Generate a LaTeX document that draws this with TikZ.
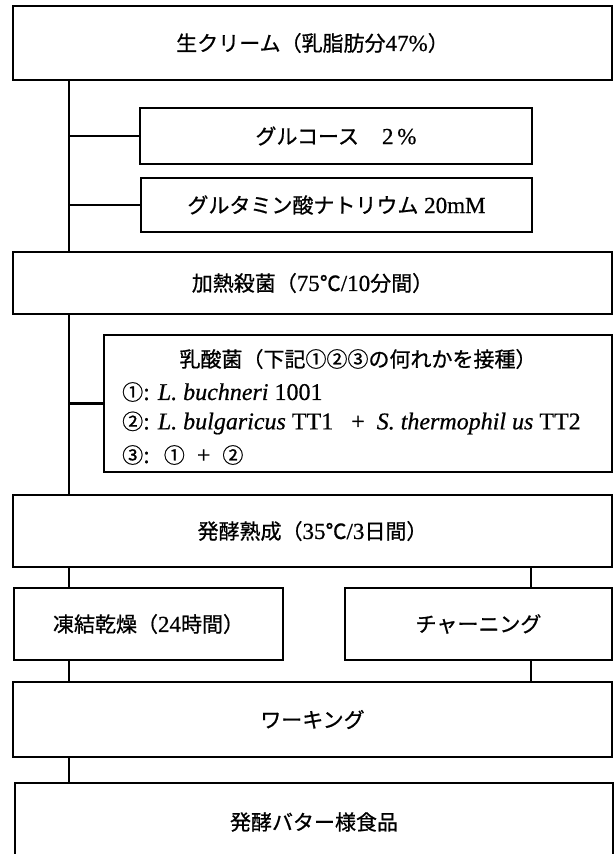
\documentclass[tikz,border=0pt]{standalone}
\usepackage{fontspec}
\setmainfont[FakeBold=0.6]{Liberation Serif}
\newfontfamily\cjkfont[FakeBold=0.8]{Noto Sans CJK JP}
\newcommand\jpn[1]{{\cjkfont\fontsize{21}{25}\selectfont #1}}
\begin{document}
\begin{tikzpicture}[x=1pt,y=-1pt,
  box/.style={draw, line width=2.5pt, rectangle, inner sep=0pt, align=center,
    font=\fontsize{23}{27}\selectfont},
  txt/.style={inner sep=0pt, font=\fontsize{21}{25}\selectfont},
  ltxt/.style={inner sep=0pt, font=\fontsize{24}{28}\selectfont},
  conn/.style={line width=2.6pt}]
\useasboundingbox (0,0) rectangle (615,854);
\clip (0,0) rectangle (615,854);
\coordinate (L) at (69,0);
\coordinate (R) at (531,0);
% boxes
\node[box, minimum width=599pt, minimum height=74pt] (cream) at (312.5,43)
  {\jpn{生クリーム（乳脂肪分}47\%\jpn{）}};
\node[box, minimum width=392pt, minimum height=56pt] (glc) at (336,136)
  {\jpn{グルコース}\quad 2\,\%};
\node[box, minimum width=391pt, minimum height=54pt] (glu) at (336.5,205)
  {\jpn{グルタミン酸ナトリウム} 20mM};
\node[box, minimum width=599pt, minimum height=62pt] (heat) at (312.5,283)
  {\jpn{加熱殺菌（}75\jpn{℃}/10\jpn{分間）}};
\node[box, minimum width=508pt, minimum height=137pt] (lactic) at (358,403.5) {};
\node[txt] (lt) at (358,359) {\jpn{乳酸菌（下記①②③の何れかを接種）}};
\node[ltxt, anchor=west] (l1) at (122,392) {\jpn{①}: \textit{L. buchneri} 1001};
\node[ltxt, anchor=west] (l2) at (122,423)
  {\jpn{②}: \textit{L. bulgaricus} TT1 \enspace+\enspace \textit{S. thermophil us} TT2};
\node[ltxt, anchor=west] (l3) at (122,455) {\jpn{③}: \ \jpn{①} \ + \ \jpn{②}};
\node[box, minimum width=599pt, minimum height=72pt] (ferment) at (312.5,531)
  {\jpn{発酵熟成（}35\jpn{℃}/3\jpn{日間）}};
\node[box, minimum width=269pt, minimum height=72pt] (freeze) at (148.5,624)
  {\jpn{凍結乾燥（}24\jpn{時間）}};
\node[box, minimum width=267pt, minimum height=72pt] (churn) at (478.5,624)
  {\jpn{チャーニング}};
\node[box, minimum width=599pt, minimum height=75pt] (work) at (312.5,719.5)
  {\jpn{ワーキング}};
\node[box, minimum width=598pt, minimum height=78pt] (final) at (314,822)
  {\jpn{発酵バター様食品}};
% connectors
\draw[conn] (cream.south -| L) -- (heat.north -| L);
\draw[conn] (glc.west -| L) -- (glc.west);
\draw[conn] (glu.west -| L) -- (glu.west);
\draw[conn] (heat.south -| L) -- (ferment.north -| L);
\draw[conn] (lactic.west -| L) -- (lactic.west);
\draw[conn] (ferment.south -| L) -- (freeze.north -| L);
\draw[conn] (ferment.south -| R) -- (churn.north -| R);
\draw[conn] (freeze.south -| L) -- (work.north -| L);
\draw[conn] (churn.south -| R) -- (work.north -| R);
\draw[conn] (work.south -| L) -- (final.north -| L);
\end{tikzpicture}
\end{document}
